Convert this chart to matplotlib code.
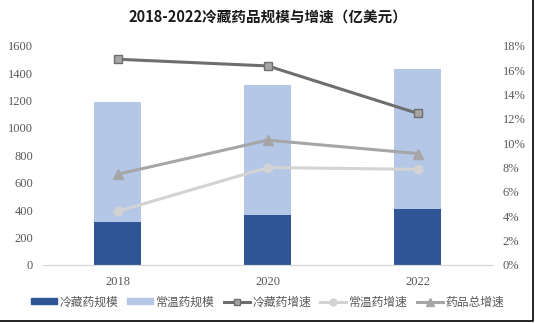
import matplotlib
matplotlib.use("Agg")
import matplotlib.pyplot as plt
from matplotlib.lines import Line2D
import numpy as np

plt.rcParams["font.family"] = ["Noto Sans CJK SC", "DejaVu Sans"]

years = ["2018", "2020", "2022"]
cold_size = [315, 367, 411]
normal_size = [875, 947, 1020]
cold_growth = [16.9, 16.35, 12.45]
normal_growth = [4.4, 8.0, 7.85]
total_growth = [7.45, 10.25, 9.15]

fig = plt.figure(figsize=(5.35, 3.23), dpi=100)
ax = fig.add_axes([0.080, 0.180, 0.841, 0.678])
ax2 = ax.twinx()

x = np.arange(len(years))
ax.bar(x, cold_size, width=0.313, color="#2F5597", label="冷藏药规模", zorder=2)
ax.bar(x, normal_size, width=0.313, bottom=cold_size, color="#B4C7E7",
       label="常温药规模", zorder=2)

ax2.plot(x, cold_growth, color="#6E6E6E", lw=2.2, marker="s", ms=6,
         mfc="#A6A6A6", mec="#6E6E6E", mew=1, label="冷藏药增速")
ax2.plot(x, normal_growth, color="#D3D3D3", lw=2.2, marker="o", ms=6,
         mfc="#D3D3D3", mec="#D3D3D3", label="常温药增速")
ax2.plot(x, total_growth, color="#A6A6A6", lw=2.2, marker="^", ms=7,
         mfc="#A6A6A6", mec="#A6A6A6", label="药品总增速")

ax.set_xlim(-0.5, 2.5)
ax.set_ylim(0, 1600)
ax.set_yticks(range(0, 1601, 200))
ax2.set_ylim(0, 18)
ax2.set_yticks(range(0, 19, 2))
ax2.set_yticklabels([f"{v}%" for v in range(0, 19, 2)])
ax.set_xticks(x)
ax.set_xticklabels(years)

for a in (ax, ax2):
    for s in ("top", "left", "right"):
        a.spines[s].set_visible(False)
    a.spines["bottom"].set_color("#D9D9D9")
    a.tick_params(length=0, colors="#595959", labelsize=9)
    for lab in a.get_xticklabels() + a.get_yticklabels():
        lab.set_fontfamily("Liberation Serif")
ax.tick_params(axis="x", pad=8)
ax.tick_params(axis="y", pad=7)
ax2.tick_params(axis="y", pad=7)

fig.suptitle("2018-2022冷藏药品规模与增速（亿美元）", x=0.5, y=0.975,
             fontsize=10.5, fontweight="bold", color="#1A1A1A")

handles = [
    plt.Rectangle((0, 0), 1, 1, color="#2F5597"),
    plt.Rectangle((0, 0), 1, 1, color="#B4C7E7"),
    Line2D([], [], color="#6E6E6E", lw=2.2, marker="s", ms=5,
           mfc="#A6A6A6", mec="#6E6E6E"),
    Line2D([], [], color="#D3D3D3", lw=2.2, marker="o", ms=5),
    Line2D([], [], color="#A6A6A6", lw=2.2, marker="^", ms=6),
]
labels = ["冷藏药规模", "常温药规模", "冷藏药增速", "常温药增速", "药品总增速"]
fig.legend(handles, labels, loc="center", bbox_to_anchor=(0.5, 0.065), ncol=5,
           frameon=False, fontsize=8.5, handlelength=2.2, handleheight=0.35,
           columnspacing=0.8, handletextpad=0.2, labelcolor="#595959")

# image frame on right and bottom
fig.add_artist(Line2D([0, 0.996, 0.996], [0.006, 0.006, 1], color="black",
                      lw=1.2, transform=fig.transFigure))

fig.savefig("out.png", dpi=100)
